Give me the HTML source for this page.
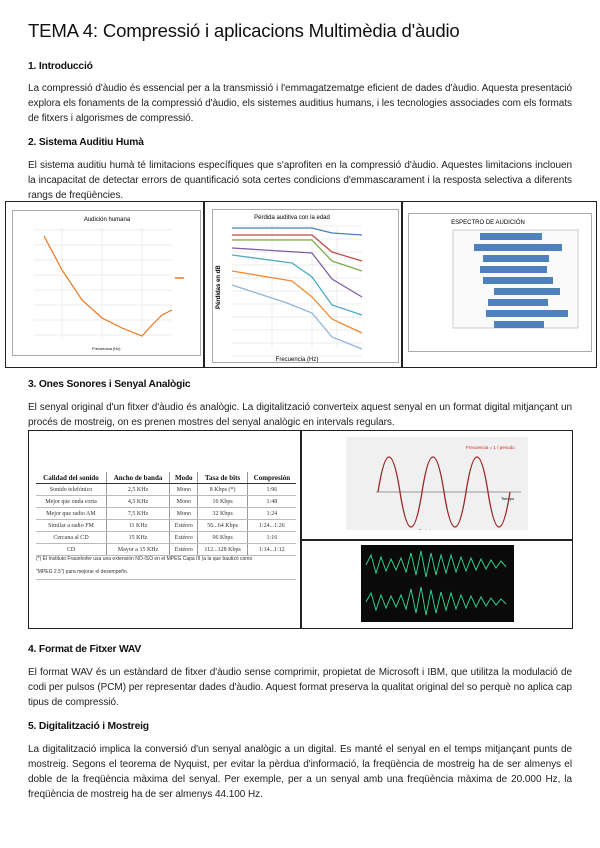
<!DOCTYPE html>
<html><head><meta charset="utf-8"><style>
body{margin:0;background:#fff;width:600px;height:848px;position:relative;overflow:hidden;font-family:"Liberation Sans",sans-serif;color:#222}
.a{position:absolute}
h1{position:absolute;left:28px;top:20px;margin:0;font-weight:normal;font-size:18.6px;color:#111;letter-spacing:-0.2px}
h2{position:absolute;left:28px;margin:0;font-size:10.3px;font-weight:bold;color:#111;letter-spacing:-0.2px}
p{position:absolute;left:28px;width:544px;margin:0;font-size:10px;letter-spacing:-0.05px;line-height:15px;text-align:justify;text-align-last:left;color:#222}
.box{position:absolute;border:1.5px solid #222;box-sizing:border-box}
table{border-collapse:collapse;font-family:"Liberation Serif",serif;font-size:6px;color:#333}
td,th{text-align:center;padding:0 3px;height:11px;border-left:1px solid #999;border-bottom:1px solid #bbb}
td:first-child,th:first-child{border-left:none}
th{font-size:7px;color:#111;border-bottom:1px solid #333}
</style></head><body>
<h1>TEMA 4: Compressió i aplicacions Multimèdia d'àudio</h1>
<h2 style="top:61px">1. Introducció</h2>
<p style="top:81px">La compressió d'àudio és essencial per a la transmissió i l'emmagatzematge eficient de dades d'àudio. Aquesta presentació explora els fonaments de la compressió d'àudio, els sistemes auditius humans, i les tecnologies associades com els formats de fitxers i algorismes de compressió.</p>
<h2 style="top:137px">2. Sistema Auditiu Humà</h2>
<p style="top:158px">El sistema auditiu humà té limitacions específiques que s'aprofiten en la compressió d'àudio. Aquestes limitacions inclouen la incapacitat de detectar errors de quantificació sota certes condicions d'emmascarament i la resposta selectiva a diferents rangs de freqüències.</p>

<div class="box" style="left:5px;top:201px;width:592px;height:167px"></div>
<div class="a" style="left:203px;top:201px;width:1.5px;height:167px;background:#222"></div>
<div class="a" style="left:401px;top:201px;width:1.5px;height:167px;background:#222"></div>

<svg class="a" style="left:12px;top:210px" width="190" height="146">
<rect x="0.5" y="0.5" width="188" height="145" fill="#fff" stroke="#aaa"/>
<text x="95" y="11" font-size="6" text-anchor="middle" font-family="Liberation Sans">Audición humana</text>
<g stroke="#ddd" stroke-width="0.5"><path d="M22 20H160M22 35H160M22 50H160M22 65H160M22 80H160M22 95H160M22 110H160M22 125H160M50 18V128M90 18V128M130 18V128"/></g>
<path d="M32 26 L50 60 L70 90 L90 108 L110 118 L130 126 L140 115 L150 105 L160 100" fill="none" stroke="#e87722" stroke-width="1.2"/>
<line x1="163" y1="68" x2="172" y2="68" stroke="#e87722" stroke-width="1.5"/>
<text x="80" y="140" font-size="4" font-family="Liberation Sans">Frecuencia (Hz)</text>
</svg>

<svg class="a" style="left:212px;top:209px" width="187" height="154">
<rect x="0.5" y="0.5" width="186" height="153" fill="#fff" stroke="#aaa"/>
<text x="80" y="10" font-size="6" text-anchor="middle" font-family="Liberation Sans">Pérdida auditiva con la edad</text>
<g stroke="#ddd" stroke-width="0.5"><path d="M20 17H150M20 30H150M20 43H150M20 56H150M20 69H150M20 82H150M20 95H150M20 108H150M20 121H150M20 134H150M20 147H150M60 17V140M100 17V140M125 17V140"/></g>
<g fill="none" stroke-width="1.3">
<path d="M20 19H100L120 24L150 26" stroke="#4a7ebb"/>
<path d="M20 26H100L120 43L150 52" stroke="#be4b48"/>
<path d="M20 31H100L120 52L150 62" stroke="#7ead4a"/>
<path d="M20 39L100 44L120 70L150 88" stroke="#7d5fa0"/>
<path d="M20 46L80 54L100 68L120 96L150 106" stroke="#4aacc5"/>
<path d="M20 62L80 72L100 88L120 110L150 124" stroke="#f38b36"/>
<path d="M20 76L75 94L100 104L120 128L150 140" stroke="#95b3d7"/>
</g>
<text x="8" y="100" font-size="6" font-weight="bold" transform="rotate(-90 8 100)" font-family="Liberation Sans">Pérdidas en dB</text>
<text x="85" y="152" font-size="6" text-anchor="middle" font-family="Liberation Sans">Frecuencia (Hz)</text>
</svg>

<svg class="a" style="left:408px;top:213px" width="184" height="139">
<rect x="0.5" y="0.5" width="183" height="138" fill="#fff" stroke="#aaa"/>
<text x="80" y="11" font-size="6" text-anchor="middle" font-family="Liberation Sans">ESPECTRO DE AUDICIÓN</text>
<rect x="45" y="17" width="125" height="98" fill="#fafafa" stroke="#ccc"/>
<g fill="#4f81bd">
<rect x="72" y="20" width="62" height="7"/><rect x="66" y="31" width="88" height="7"/>
<rect x="75" y="42" width="66" height="7"/><rect x="72" y="53" width="67" height="7"/>
<rect x="75" y="64" width="70" height="7"/><rect x="86" y="75" width="66" height="7"/>
<rect x="80" y="86" width="60" height="7"/><rect x="78" y="97" width="82" height="7"/>
<rect x="86" y="108" width="50" height="7"/></g>
</svg>

<h2 style="top:379px">3. Ones Sonores i Senyal Analògic</h2>
<p style="top:400px">El senyal original d'un fitxer d'àudio és analògic. La digitalització converteix aquest senyal en un format digital mitjançant un procés de mostreig, on es prenen mostres del senyal analògic en intervals regulars.</p>

<div class="box" style="left:28px;top:430px;width:545px;height:199px"></div>
<div class="a" style="left:300px;top:430px;width:1.5px;height:199px;background:#222"></div>
<div class="a" style="left:300px;top:539px;width:273px;height:1.5px;background:#222"></div>

<table class="a" style="left:36px;top:472px;width:260px">
<tr><th>Calidad del sonido</th><th>Ancho de banda</th><th>Modo</th><th>Tasa de bits</th><th>Compresión</th></tr>
<tr><td>Sonido telefónico</td><td>2,5 KHz</td><td>Mono</td><td>8 Kbps (*)</td><td>1:96</td></tr>
<tr><td>Mejor que onda corta</td><td>4,5 KHz</td><td>Mono</td><td>16 Kbps</td><td>1:48</td></tr>
<tr><td>Mejor que radio AM</td><td>7,5 KHz</td><td>Mono</td><td>32 Kbps</td><td>1:24</td></tr>
<tr><td>Similar a radio FM</td><td>11 KHz</td><td>Estéreo</td><td>56...64 Kbps</td><td>1:24...1:26</td></tr>
<tr><td>Cercana al CD</td><td>15 KHz</td><td>Estéreo</td><td>96 Kbps</td><td>1:16</td></tr>
<tr><td>CD</td><td>Mayor a 15 KHz</td><td>Estéreo</td><td>112...128 Kbps</td><td>1:14...1:12</td></tr>
</table>
<div class="a" style="left:36px;top:553px;width:260px;font-size:5px;line-height:13px;color:#333;border-bottom:1px solid #bbb">(*) El Instituto Fraunhofer usa una extensión NO-ISO en el MPEG Capa III (a la que bautizó como<br>"MPEG 2.5") para mejorar el desempeño.</div>

<svg class="a" style="left:346px;top:437px" width="182" height="93">
<rect width="182" height="93" fill="#f0f0f0"/>
<text x="120" y="12" font-size="4.5" fill="#d22" font-family="Liberation Sans">Frecuencia = 1 / periodo</text>
<line x1="30" y1="55" x2="175" y2="55" stroke="#999"/>
<path d="M32 55 Q43 -15 54 55 T76 55 T98 55 T120 55 T142 55 T164 55" fill="none" stroke="#9b2626" stroke-width="1.3"/>
<text x="155" y="63" font-size="4" font-family="Liberation Sans">Tiempo</text>
<text x="73" y="95" font-size="4" font-family="Liberation Sans">Periodo</text>
</svg>

<svg class="a" style="left:361px;top:545px" width="153" height="77">
<rect width="153" height="77" fill="#0a0a0a"/>
<g stroke="#2fcf90" stroke-width="1">
<path d="M5 20 L10 10 L15 28 L20 12 L25 26 L30 14 L35 25 L40 13 L45 27 L50 8 L55 30 L60 6 L65 32 L70 8 L75 30 L80 10 L85 28 L90 10 L95 27 L100 12 L105 26 L110 13 L115 25 L120 14 L125 24 L130 15 L135 23 L140 16 L145 22"/>
<path d="M5 57 L10 48 L15 65 L20 50 L25 63 L30 51 L35 62 L40 50 L45 64 L50 44 L55 68 L60 42 L65 70 L70 45 L75 68 L80 47 L85 65 L90 48 L95 64 L100 50 L105 63 L110 51 L115 62 L120 52 L125 61 L130 53 L135 60 L140 54 L145 59"/>
</g></svg>

<h2 style="top:644px">4. Format de Fitxer WAV</h2>
<p style="top:665px">El format WAV és un estàndard de fitxer d'àudio sense comprimir, propietat de Microsoft i IBM, que utilitza la modulació de codi per pulsos (PCM) per representar dades d'àudio. Aquest format preserva la qualitat original del so perquè no aplica cap tipus de compressió.</p>
<h2 style="top:721px">5. Digitalització i Mostreig</h2>
<p style="top:742px">La digitalització implica la conversió d'un senyal analògic a un digital. Es manté el senyal en el temps mitjançant punts de mostreig. Segons el teorema de Nyquist, per evitar la pèrdua d'informació, la freqüència de mostreig ha de ser almenys el doble de la freqüència màxima del senyal. Per exemple, per a un senyal amb una freqüència màxima de 20.000 Hz, la freqüència de mostreig ha de ser almenys 44.100 Hz.</p>
</body></html>
